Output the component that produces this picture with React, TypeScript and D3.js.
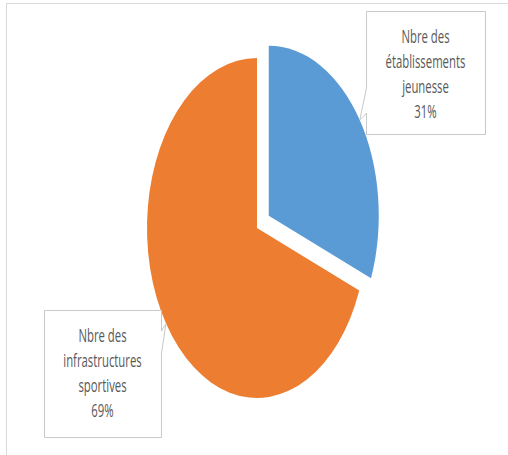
import React from 'react';
import * as d3 from 'd3';

// chart data
const categories = ['Nbre des établissements jeunesse', 'Nbre des infrastructures sportives'];
const labelLines = [['Nbre des', 'établissements', 'jeunesse'], ['Nbre des', 'infrastructures', 'sportives']];
const values = [31, 69];
const colors = ['#5B9BD5', '#ED7D31'];

const width = 508, height = 455;
const cx = 257, cy = 228;
const radius = 170;
const squeeze = 0.647; // the picture is horizontally compressed
const explode = 22;

// label boxes (layout)
const boxes = [
    {x: 366, y: 11, w: 119, h: 123, side: 'left', y1: 88, y2: 113},
    {x: 44, y: 310, w: 117, h: 127, side: 'right', y1: 331, y2: 353}
];

export default function App() {
    const total = d3.sum(values);
    const pie = d3.pie<number>().sort(null).value(d => d);
    const arcs = pie(values);
    const arc = d3.arc<d3.PieArcDatum<number>>().innerRadius(0).outerRadius(radius);

    const offset = (a: d3.PieArcDatum<number>, i: number) => {
        if (i !== 0) return [0, 0];
        const m = (a.startAngle + a.endAngle) / 2;
        return [Math.sin(m) * explode, -Math.cos(m) * explode];
    };

    // point on slice edge at mid angle, in screen coords
    const tip = (a: d3.PieArcDatum<number>, i: number) => {
        const m = (a.startAngle + a.endAngle) / 2;
        const [ox, oy] = offset(a, i);
        const x = ox + Math.sin(m) * radius;
        const y = oy - Math.cos(m) * radius;
        return [cx + x * squeeze, cy + y];
    };

    const fmt = d3.format('.0%');

    return (
        <svg width={width} height={height} style={{position: 'absolute', left: 0, top: 0, background: '#fff'}}
             fontFamily="'Open Sans', sans-serif">
            <rect x={6.5} y={3.5} width={520} height={470} fill="#fff" stroke="#d9d9d9" />
            <g transform={`translate(${cx},${cy}) scale(${squeeze},1)`}>
                {arcs.map((a, i) => {
                    const [ox, oy] = offset(a, i);
                    return <path key={categories[i]} d={arc(a) || ''} fill={colors[i]}
                                 transform={`translate(${ox},${oy})`} />;
                })}
            </g>
            {arcs.map((a, i) => {
                const b = boxes[i];
                const [tx, ty] = tip(a, i);
                const l = b.x + 0.5, r = b.x + b.w + 0.5, t = b.y + 0.5, btm = b.y + b.h + 0.5;
                let d;
                if (b.side === 'left') {
                    d = `M${l},${t}L${r},${t}L${r},${btm}L${l},${btm}L${l},${b.y2}L${tx},${ty}L${l},${b.y1}Z`;
                } else {
                    d = `M${l},${t}L${r},${t}L${r},${b.y1}L${tx},${ty}L${r},${b.y2}L${r},${btm}L${l},${btm}Z`;
                }
                const lines = [...labelLines[i], fmt(values[i] / total)];
                return (
                    <g key={'lbl' + i}>
                        <path d={d} fill="#fff" stroke="#c9c9c9" strokeWidth={1} />
                        {lines.map((s, j) => (
                            <g key={j} transform={`translate(${b.x + b.w / 2},${b.y + 32 + j * 25}) scale(0.63,1)`}>
                                <text textAnchor="middle" fontSize={18} fill="#595959">{s}</text>
                            </g>
                        ))}
                    </g>
                );
            })}
        </svg>
    );
}
